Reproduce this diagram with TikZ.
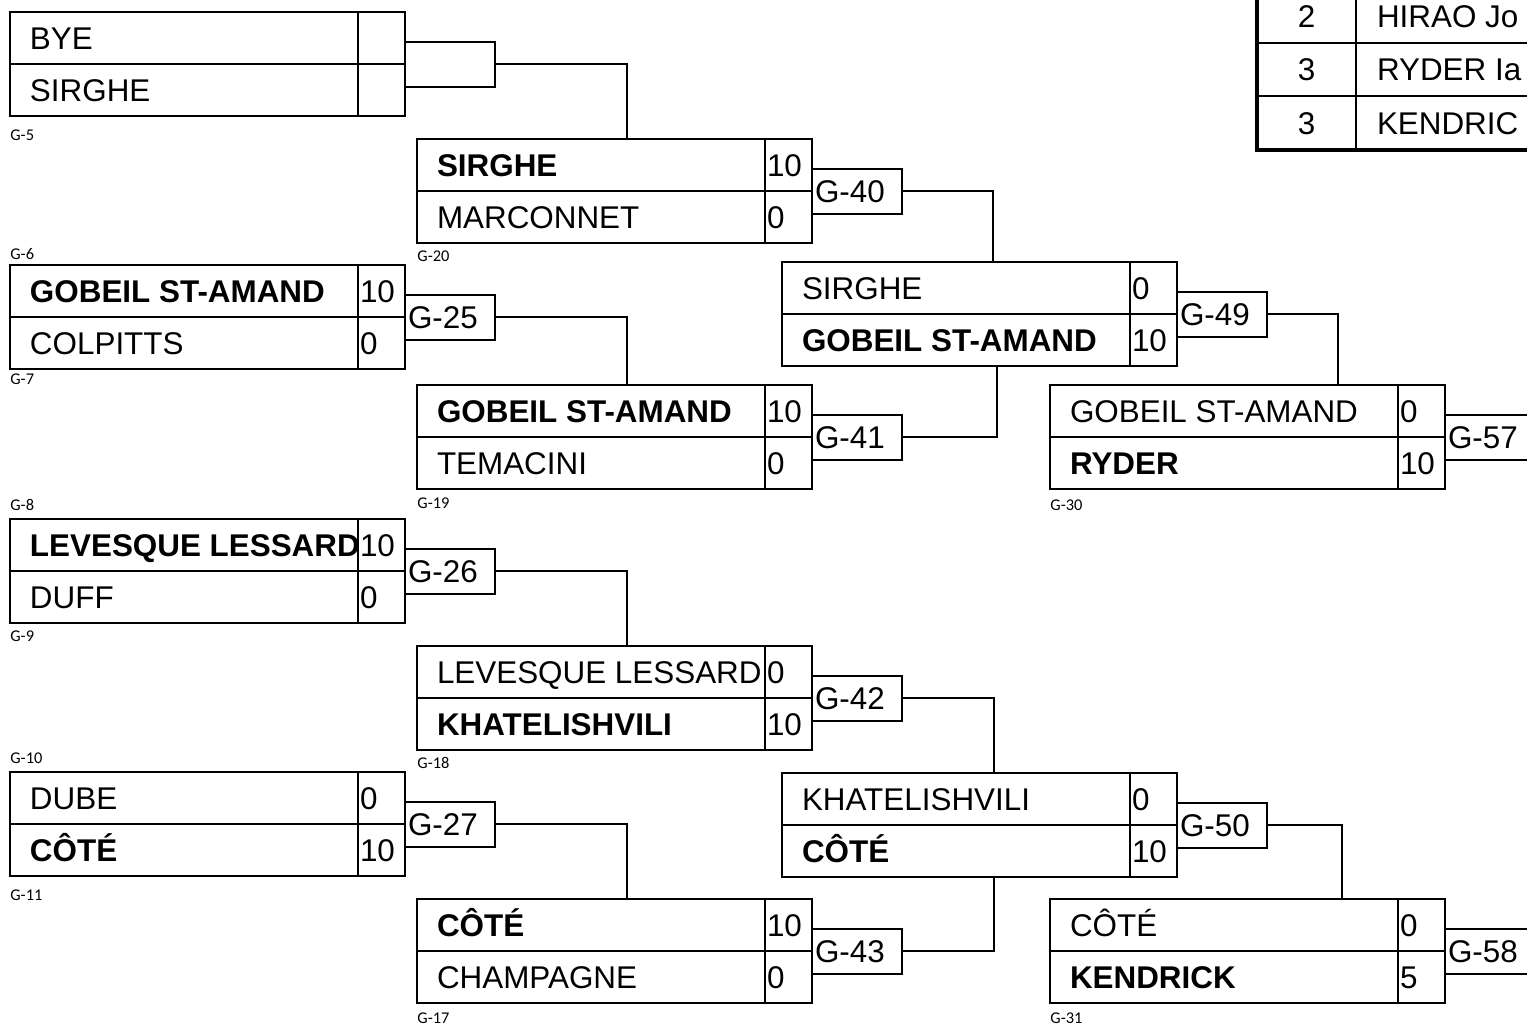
\documentclass[tikz,border=0pt]{standalone}
\usepackage{fontspec}
\setmainfont{Liberation Sans}
\newfontfamily\gfont{Carlito}
\usetikzlibrary{positioning}

\tikzset{
  cell/.style={draw, line width=1pt, inner sep=0pt, outer sep=0pt, minimum height=26pt,
    text height=11.6pt, text depth=0pt, font=\fontsize{15.7}{18}\selectfont},
  namecell/.style={cell, minimum width=174pt, anchor=north west},
  scorecell/.style={cell, minimum width=23.5pt},
  gamebox/.style={cell, minimum width=45pt, minimum height=22.5pt, text height=11.2pt, anchor=west},
  rankcell/.style={cell, minimum width=49.5pt, minimum height=26.75pt},
  playercell/.style={cell, minimum width=130pt, minimum height=26.75pt},
  gid/.style={anchor=west, inner sep=0pt, font=\gfont\fontsize{8.2}{9}\selectfont},
  link/.style={draw, line width=1pt},
}

% one match: id, top left corner, top player, score, bottom player, score, game
\newcommand{\bout}[7]{%
  \node[namecell] (#1t) at (#2) {\makebox[154pt][l]{#3}};
  \node[scorecell, right=0pt of #1t] (#1ts) {\makebox[21.5pt][l]{#4}};
  \node[namecell, below=0pt of #1t] (#1b) {\makebox[154pt][l]{#5}};
  \node[scorecell, right=0pt of #1b] (#1bs) {\makebox[21.5pt][l]{#6}};
  \node[gamebox] (#1g) at (#1ts.south east) {\makebox[42pt][l]{#7}};
}

\begin{document}
\begin{tikzpicture}[x=0.5pt, y=-0.5pt]
  \useasboundingbox (0,0) rectangle (1527,1025);
  \clip (0,0) rectangle (1527,1025);

  % first round
  \bout{r1a}{10,12}{BYE}{}{SIRGHE}{}{}
  \bout{r1b}{10,265}{\textbf{GOBEIL ST-AMAND}}{10}{COLPITTS}{0}{G-25}
  \bout{r1c}{10,519}{\textbf{LEVESQUE LESSARD}}{10}{DUFF}{0}{G-26}
  \bout{r1d}{10,772}{DUBE}{0}{\textbf{CÔTÉ}}{10}{G-27}

  % second round
  \bout{r2a}{417,139}{\textbf{SIRGHE}}{10}{MARCONNET}{0}{G-40}
  \bout{r2b}{417,385}{\textbf{GOBEIL ST-AMAND}}{10}{TEMACINI}{0}{G-41}
  \bout{r2c}{417,646}{LEVESQUE LESSARD}{0}{\textbf{KHATELISHVILI}}{10}{G-42}
  \bout{r2d}{417,899}{\textbf{CÔTÉ}}{10}{CHAMPAGNE}{0}{G-43}

  % third and fourth round
  \bout{r3a}{782,262}{SIRGHE}{0}{\textbf{GOBEIL ST-AMAND}}{10}{G-49}
  \bout{r3b}{782,773}{KHATELISHVILI}{0}{\textbf{CÔTÉ}}{10}{G-50}
  \bout{r4a}{1050,385}{GOBEIL ST-AMAND}{0}{\textbf{RYDER}}{10}{G-57}
  \bout{r4b}{1050,899}{CÔTÉ}{0}{\textbf{KENDRICK}}{5}{G-58}

  \draw[link] (r1ag.east) -| ([xshift=105pt]r2at.north west);
  \draw[link] (r1bg.east) -| ([xshift=105pt]r2bt.north west);
  \draw[link] (r1cg.east) -| ([xshift=105pt]r2ct.north west);
  \draw[link] (r1dg.east) -| ([xshift=105pt]r2dt.north west);
  \draw[link] (r2ag.east) -| ([xshift=105.5pt]r3at.north west);
  \draw[link] (r2bg.east) -| ([xshift=107.5pt]r3ab.south west);
  \draw[link] (r2cg.east) -| ([xshift=106pt]r3bt.north west);
  \draw[link] (r2dg.east) -| ([xshift=106pt]r3bb.south west);
  \draw[link] (r3ag.east) -| ([xshift=144pt]r4at.north west);
  \draw[link] (r3bg.east) -| ([xshift=146pt]r4bt.north west);

  % game numbers
  \foreach \g/\x/\y in {5/10/135, 6/10/254, 7/10/379, 8/10/505, 9/10/636,
      10/10/758, 11/10/895, 20/417/256, 19/417/503, 18/417/763, 17/417/1018,
      30/1050/505, 31/1050/1018}
    \node[gid] (gid\g) at (\x,\y) {G-\g};

  % standings
  \node[rankcell, anchor=north west] (rk1) at (1257,-11) {2};
  \node[rankcell, below=0pt of rk1] (rk2) {3};
  \node[rankcell, below=0pt of rk2] (rk3) {3};
  \node[playercell, right=0pt of rk1] (pl1) {\makebox[109pt][l]{HIRAO Jo}};
  \node[playercell, right=0pt of rk2] (pl2) {\makebox[109pt][l]{RYDER Ia}};
  \node[playercell, right=0pt of rk3] (pl3) {\makebox[109pt][l]{KENDRIC}};
  \draw[line width=2pt] (rk1.north west) -- (rk3.south west) -- (pl3.south east);
\end{tikzpicture}
\end{document}
